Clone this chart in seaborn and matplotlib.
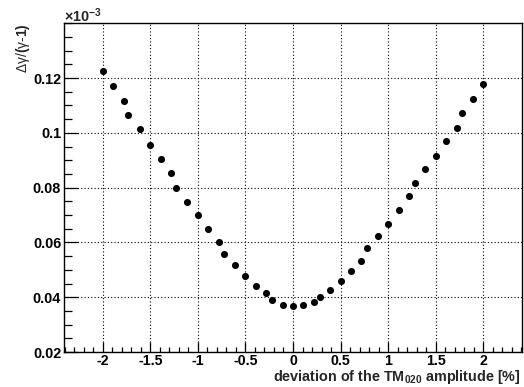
import numpy as np
import pandas as pd
import matplotlib
matplotlib.use("Agg")
import matplotlib.pyplot as plt
import seaborn as sns
from matplotlib.ticker import MultipleLocator

# data
deviation = [-2.0, -1.89, -1.78, -1.73, -1.61, -1.5, -1.39, -1.28, -1.23, -1.11,
             -1.0, -0.89, -0.78, -0.72, -0.61, -0.5, -0.39, -0.28, -0.22, -0.11,
             0.0, 0.11, 0.22, 0.28, 0.39, 0.5, 0.61, 0.72, 0.78, 0.89,
             1.0, 1.11, 1.22, 1.28, 1.39, 1.5, 1.61, 1.72, 1.78, 1.89, 2.0]
dgamma = [0.1227, 0.1172, 0.1117, 0.1065, 0.1013, 0.0957, 0.0905, 0.0853, 0.0800, 0.0749,
          0.0700, 0.0649, 0.0602, 0.0558, 0.0516, 0.0476, 0.0441, 0.0414, 0.0389, 0.0373,
          0.0367, 0.0371, 0.0382, 0.0400, 0.0427, 0.0459, 0.0495, 0.0534, 0.0578, 0.0623,
          0.0668, 0.0717, 0.0768, 0.0818, 0.0867, 0.0917, 0.0970, 0.1019, 0.1074, 0.1124, 0.1178]

x_ticks = [-2, -1.5, -1, -0.5, 0, 0.5, 1, 1.5, 2]
x_tick_labels = ["-2", "-1.5", "-1", "-0.5", "0", "0.5", "1", "1.5", "2"]
y_ticks = [0.02, 0.04, 0.06, 0.08, 0.10, 0.12]
y_tick_labels = ["0.02", "0.04", "0.06", "0.08", "0.1", "0.12"]

x_label = r"deviation of the TM$_{\mathbf{020}}$ amplitude [%]"
y_label = r"Δγ/$\mathbf{(}$γ$\mathbf{\text{-}1)}$"
exponent_label = r"×10$^{\mathbf{-3}}$"

sns.set_theme(style="white")
plt.rcParams['font.family'] = ['Liberation Sans', 'DejaVu Sans']
plt.rcParams['axes.unicode_minus'] = False
plt.rcParams['mathtext.fontset'] = 'custom'
plt.rcParams['mathtext.rm'] = 'Liberation Sans'
plt.rcParams['mathtext.bf'] = 'Liberation Sans:bold'

fig = plt.figure(figsize=(5.24, 3.87), dpi=100)
fig.patch.set_facecolor("white")
ax = fig.add_axes([0.1221, 0.0904, 0.8741, 0.8494])
ax.set_facecolor("white")

df = pd.DataFrame({"deviation": deviation, "dgamma": dgamma})
sns.scatterplot(data=df, x="deviation", y="dgamma", ax=ax, color="black",
                s=26, linewidth=0, zorder=3)

ax.set_xlim(-2.407, 2.407)
ax.set_ylim(0.02, 0.14)
ax.set_xticks(x_ticks)
ax.set_xticklabels(x_tick_labels, fontweight="bold", fontsize=10.2)
ax.set_yticks(y_ticks)
ax.set_yticklabels(y_tick_labels, fontweight="bold", fontsize=10.4)
ax.xaxis.set_minor_locator(MultipleLocator(0.1))
ax.yaxis.set_minor_locator(MultipleLocator(0.005))
ax.set_xlabel("")
ax.set_ylabel("")

ax.tick_params(axis="both", which="both", direction="in", color="black",
               width=0.9, top=False, right=False, bottom=True, left=True,
               labelcolor="black")
ax.tick_params(axis="x", which="major", length=7.2, pad=1.5)
ax.tick_params(axis="x", which="minor", length=3.6)
ax.tick_params(axis="y", which="major", length=10, pad=2)
ax.tick_params(axis="y", which="minor", length=5.8)

ax.grid(True, which="major", color="black", linestyle=(0, (1, 2)), linewidth=0.8)
ax.set_axisbelow(True)
for s in ax.spines.values():
    s.set_visible(True)
    s.set_color("black")
    s.set_linewidth(1.0)

fig.text(0.9943, 0.016, x_label, ha="right", va="baseline",
         fontsize=10.4, fontweight="bold")
fig.text(0.044, 0.94, y_label, rotation=90, ha="center", va="top", fontsize=10)
fig.text(0.122, 0.943, exponent_label, ha="left", va="baseline",
         fontsize=10.4, fontweight="bold")

fig.savefig("out.png", dpi=100, facecolor="white")
